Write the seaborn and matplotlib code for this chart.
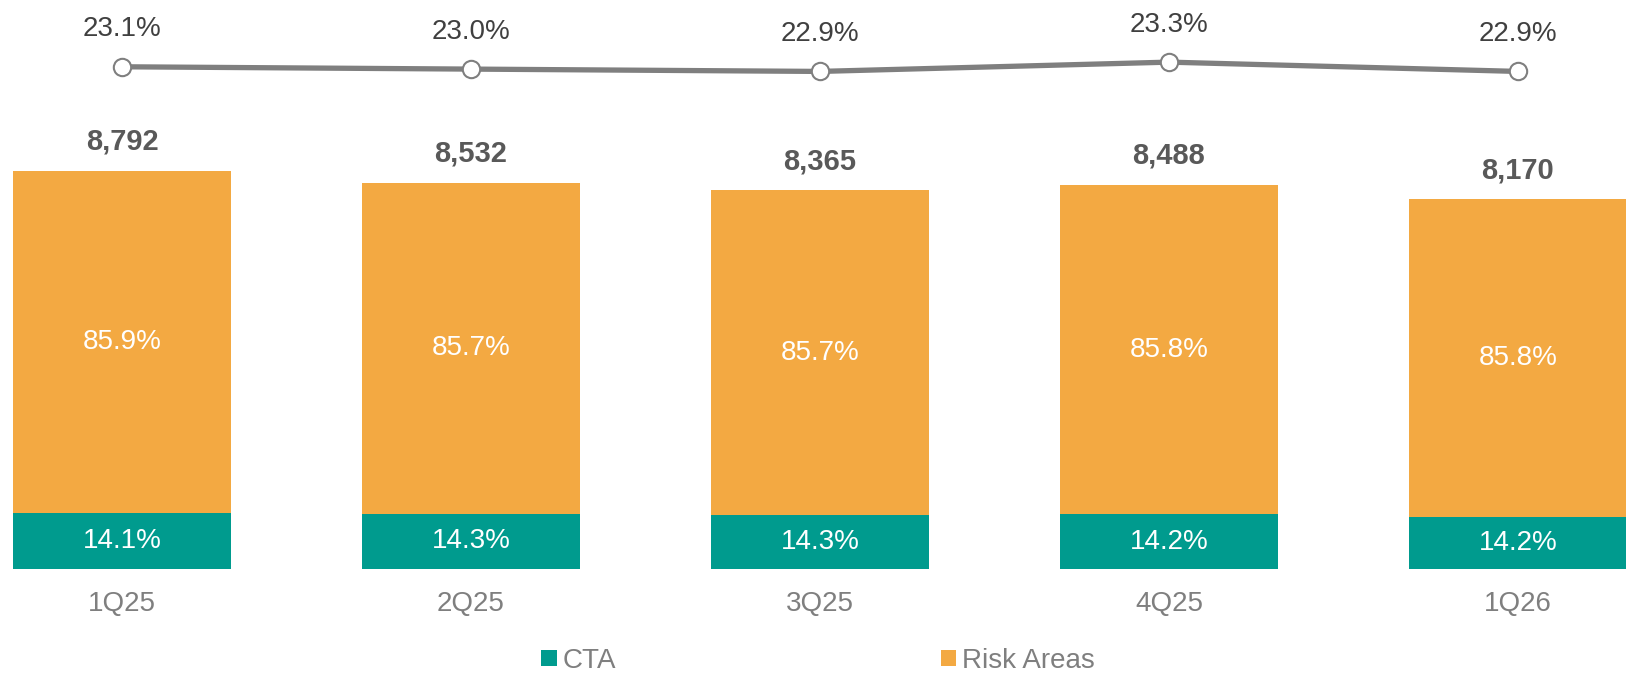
import numpy as np
import pandas as pd
import matplotlib
matplotlib.use("Agg")
import matplotlib.pyplot as plt
import seaborn as sns
from matplotlib.patches import Patch

# ---- data ----
quarters = ["1Q25", "2Q25", "3Q25", "4Q25", "1Q26"]
totals = [8792, 8532, 8365, 8488, 8170]
cta_pct = [14.1, 14.3, 14.3, 14.2, 14.2]
risk_pct = [85.9, 85.7, 85.7, 85.8, 85.8]
ratio_pct = [23.1, 23.0, 22.9, 23.3, 22.9]

ORANGE = "#F3A942"
TEAL = "#009B8E"
LINE_GRAY = "#7F7F7F"

sns.set_style("white")
plt.rcParams["font.family"] = ["Liberation Sans", "DejaVu Sans"]

df = pd.DataFrame({
    "quarter": quarters,
    "total": totals,
    "cta": [t * p / 100 for t, p in zip(totals, cta_pct)],
})

fig = plt.figure(figsize=(16.26, 6.75), dpi=100)

# ---- bars ----
ax = fig.add_axes([0, 0.157, 1, 0.843])
sns.barplot(data=df, x="quarter", y="total", color=ORANGE, width=0.625,
            saturation=1, ax=ax, linewidth=0)
sns.barplot(data=df, x="quarter", y="cta", color=TEAL, width=0.625,
            saturation=1, ax=ax, linewidth=0)
ax.set_xlim(-0.35, 4.31)
ax.set_ylim(0, 12570)
for s in ax.spines.values():
    s.set_visible(False)
ax.set_yticks([])
ax.set_xlabel("")
ax.set_ylabel("")
ax.tick_params(axis="x", length=0, pad=16, labelsize=20, labelcolor="#7F7F7F")

for i, (t, c, r) in enumerate(zip(totals, cta_pct, risk_pct)):
    cta_v = t * c / 100
    ax.text(i, cta_v / 2, f"{c:.1f}%", ha="center", va="center",
            color="white", fontsize=20)
    ax.text(i, cta_v + (t - cta_v) / 2, f"{r:.1f}%", ha="center", va="center",
            color="white", fontsize=20)
    ax.annotate(f"{t:,}", (i, t), xytext=(0, 21), textcoords="offset points",
                ha="center", va="center", fontsize=21, fontweight="bold",
                color="#595959")

# ---- line ----
ax2 = fig.add_axes([0, 0.852, 1, 0.148])
ax2.patch.set_alpha(0)
sns.lineplot(x=np.arange(len(quarters)), y=ratio_pct, ax=ax2, color=LINE_GRAY,
             linewidth=3.8, marker="o", markersize=12.5,
             markerfacecolor="white", markeredgecolor=LINE_GRAY,
             markeredgewidth=1.5)
ax2.set_xlim(-0.35, 4.31)
ax2.set_ylim(21.674, 25.975)
ax2.axis("off")
for i, v in enumerate(ratio_pct):
    ax2.annotate(f"{v:.1f}%", (i, v), xytext=(0, 27), textcoords="offset points",
                 ha="center", va="center", fontsize=20, color="#404040")

# ---- legend ----
handles = [Patch(facecolor=TEAL, edgecolor="none", label="CTA"),
           Patch(facecolor=ORANGE, edgecolor="none", label="Risk Areas")]
fig.legend(handles=handles, loc="center", bbox_to_anchor=(0.503, 0.021),
           ncol=2, frameon=False, fontsize=20, labelcolor="#7F7F7F",
           handlelength=0.55, handleheight=0.55, handletextpad=0.2,
           columnspacing=11.7)

fig.savefig("out.png", dpi=100)
